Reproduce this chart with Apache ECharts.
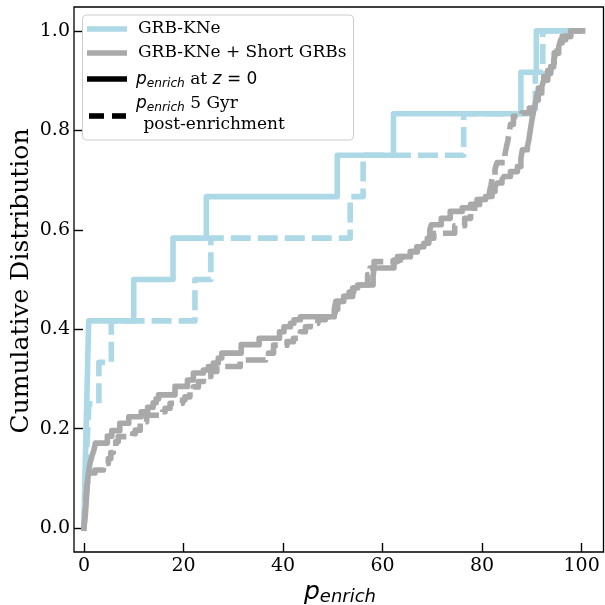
<!DOCTYPE html>
<html>
<head>
<meta charset="utf-8">
<script src="https://cdn.jsdelivr.net/npm/echarts@6/dist/echarts.min.js"></script>
<style>
html,body{margin:0;padding:0;background:#fff;}
#chart{width:605px;height:605px;}
</style>
</head>
<body>
<div id="chart"></div>
<script>
// ---- data (x = p_enrich, y = cumulative fraction) ----
var xTicks = [0, 20, 40, 60, 80, 100];
var yTicks = [0.0, 0.2, 0.4, 0.6, 0.8, 1.0];

// GRB-KNe, p_enrich at z=0
var kneZ0 = [[0,0],[0.15,0.0833],[0.35,0.1667],[0.55,0.25],[0.75,0.3333],[0.95,0.4167],[10.0,0.5],[17.9,0.5833],[24.6,0.6667],[50.9,0.75],[62.2,0.8333],[87.8,0.9167],[90.9,1.0],[97.8,1.0]];
// GRB-KNe, 5 Gyr post-enrichment
var kne5 = [[0,0],[0.3,0.0833],[0.6,0.1667],[1.0,0.25],[3.0,0.3333],[5.5,0.4167],[22.3,0.5],[25.5,0.5833],[53.5,0.6667],[56.1,0.75],[76.3,0.8333],[90.7,0.9167],[92.2,1.0],[97.8,1.0]];
// GRB-KNe + Short GRBs, p_enrich at z=0
var allZ0 = [[0,0],[0.3,0.03],[0.5,0.06],[0.7,0.09],[0.9,0.11],[1.2,0.13],[1.6,0.145],[2.0,0.157],[2.3,0.171],[4.7,0.185],[5.6,0.196],[7.2,0.211],[9.0,0.224],[11.5,0.234],[12.8,0.243],[13.9,0.252],[14.5,0.26],[15.0,0.268],[18.3,0.285],[20.8,0.298],[22.0,0.312],[24.0,0.318],[25.0,0.325],[26.0,0.332],[27.0,0.342],[27.7,0.352],[31.6,0.369],[35.2,0.382],[39.3,0.395],[40.2,0.405],[41.5,0.412],[42.2,0.419],[43.5,0.425],[50.3,0.44],[50.6,0.456],[52.2,0.466],[53.3,0.475],[54.2,0.483],[55.0,0.489],[58.1,0.506],[58.3,0.523],[62.3,0.539],[63.6,0.546],[65.6,0.556],[66.9,0.566],[68.3,0.573],[69.0,0.583],[69.5,0.6],[69.8,0.61],[71.8,0.623],[73.6,0.637],[76.0,0.644],[77.7,0.651],[79.0,0.661],[80.7,0.667],[82.0,0.677],[82.6,0.686],[83.0,0.694],[84.0,0.701],[84.4,0.707],[85.7,0.717],[87.1,0.727],[87.8,0.744],[88.1,0.761],[89.1,0.767],[89.4,0.781],[89.7,0.801],[90.0,0.82],[90.4,0.841],[90.8,0.858],[91.1,0.875],[92.0,0.888],[92.4,0.901],[93.2,0.915],[93.8,0.928],[94.4,0.942],[94.8,0.955],[95.4,0.968],[95.8,0.982],[96.8,0.989],[97.8,1.0],[100.2,1.0]];
// GRB-KNe + Short GRBs, 5 Gyr post-enrichment
var all5 = [[0,0],[0.2,0.03],[0.4,0.06],[0.6,0.085],[0.9,0.1],[1.3,0.111],[2.2,0.117],[3.9,0.13],[4.9,0.14],[5.4,0.152],[5.9,0.164],[6.4,0.174],[6.9,0.184],[9.8,0.19],[10.3,0.197],[11.3,0.214],[12.6,0.227],[15.8,0.234],[16.3,0.241],[17.3,0.251],[19.8,0.258],[20.3,0.264],[21.3,0.274],[22.0,0.284],[23.0,0.295],[24.0,0.305],[25.5,0.315],[26.7,0.325],[31.4,0.338],[36.5,0.345],[37.1,0.352],[38.1,0.368],[40.8,0.375],[42.1,0.382],[43.5,0.395],[44.5,0.405],[45.5,0.412],[47.0,0.419],[48.5,0.425],[50.5,0.44],[51.0,0.456],[52.5,0.466],[54.0,0.483],[55.5,0.489],[57.0,0.51],[57.5,0.523],[58.3,0.536],[63.0,0.546],[65.6,0.556],[67.0,0.566],[68.3,0.573],[69.3,0.583],[70.3,0.593],[74.5,0.608],[76.5,0.623],[77.7,0.637],[78.5,0.651],[79.5,0.661],[80.7,0.667],[81.5,0.677],[81.8,0.69],[82.1,0.708],[82.6,0.722],[83.0,0.735],[84.6,0.752],[84.9,0.767],[85.2,0.78],[85.4,0.794],[85.7,0.812],[86.3,0.828],[88.0,0.835],[89.5,0.845],[90.3,0.861],[91.3,0.885],[92.4,0.908],[93.2,0.92],[93.8,0.936],[94.5,0.956],[95.1,0.976],[96.1,0.989],[97.8,1.0],[100.2,1.0]];

var legendLabels = ['GRB-KNe', 'GRB-KNe + Short GRBs'];
var yTitle = 'Cumulative Distribution';

var BLUE = '#add8e6', GRAY = '#a9a9a9';
var LW = 5.6, DASH = [20, 7];
var SERIF = 'DejaVu Serif', SANS = 'DejaVu Sans';

function mkSeries(name, data, color, dashed) {
  return {
    type: 'line', name: name, data: data, step: 'end', showSymbol: false, symbol: 'none',
    lineStyle: {color: color, width: LW, type: dashed ? DASH : 'solid', cap: dashed ? 'butt' : 'square', join: 'round'},
    silent: true, clip: false
  };
}

var chart = echarts.init(document.getElementById('chart'), null, {renderer: 'canvas'});

var mathRich = function (big) {
  var f = big ? 25 : 17, fs = big ? 18 : 12.2, lh = big ? 30 : 22, pad = big ? 10 : 7;
  return {
    p: {fontFamily: SANS, fontStyle: 'italic', fontSize: f, lineHeight: lh, verticalAlign: 'middle', color: '#000'},
    s: {fontFamily: SANS, fontStyle: 'italic', fontSize: fs, lineHeight: fs + 2, padding: [pad, 0, 0, 0], verticalAlign: 'middle', color: '#000'},
    t: {fontFamily: SERIF, fontSize: f, lineHeight: lh, verticalAlign: 'middle', color: '#000'},
    m: {fontFamily: SANS, fontStyle: 'italic', fontSize: f, lineHeight: lh, verticalAlign: 'middle', color: '#000'},
    n: {fontFamily: SANS, fontSize: f, lineHeight: lh, verticalAlign: 'middle', color: '#000'}
  };
};

function handle(x, y, w, color) {
  return {type: 'rect', zlevel: 1, z: 101, shape: {x: x, y: y - LW / 2, width: w, height: LW}, style: {fill: color, stroke: null}};
}

var option = {
  animation: false,
  backgroundColor: '#fff',
  grid: {left: 74, top: 7, width: 529.5, height: 545, show: true, borderColor: '#000', borderWidth: 1.3, backgroundColor: 'transparent', containLabel: false},
  xAxis: {
    type: 'value', min: -2, max: 104.4,
    axisLine: {show: false, onZero: false},
    splitLine: {show: false},
    axisTick: {show: true, inside: true, length: 9, lineStyle: {color: '#000', width: 1.4}, customValues: xTicks},
    axisLabel: {show: true, customValues: xTicks, fontFamily: SERIF, fontSize: 19, color: '#000', margin: 5,
      formatter: function (v) { return String(Math.round(v)); }}
  },
  yAxis: {
    type: 'value', min: -0.048, max: 1.048,
    axisLine: {show: false, onZero: false},
    splitLine: {show: false},
    axisTick: {show: true, inside: true, length: 9, lineStyle: {color: '#000', width: 1.4}, customValues: yTicks},
    axisLabel: {show: true, customValues: yTicks, fontFamily: SERIF, fontSize: 19, color: '#000', margin: 4,
      formatter: function (v) { return v.toFixed(1); }}
  },
  series: [
    mkSeries('kneZ0', kneZ0, BLUE, false),
    mkSeries('kne5', kne5, BLUE, true),
    mkSeries('allZ0', allZ0, GRAY, false),
    mkSeries('all5', all5, GRAY, true)
  ],
  graphic: [
    // y-axis title
    {type: 'text', x: 21, y: 281, rotation: Math.PI / 2, z: 100,
      style: {text: yTitle, fontFamily: SERIF, fontSize: 25, fill: '#000', align: 'center', verticalAlign: 'middle'}},
    // x-axis title
    {type: 'text', x: 340, y: 592, z: 100,
      style: {text: '{p|p}{s|enrich}', rich: mathRich(true), align: 'center', verticalAlign: 'middle'}},
    // legend box
    {type: 'rect', zlevel: 1, z: 100, shape: {x: 82.5, y: 15, width: 271, height: 125, r: 4},
      style: {fill: 'rgba(255,255,255,0.8)', stroke: '#cccccc', lineWidth: 1}},
    handle(87, 29, 40, BLUE),
    handle(87, 53, 40, GRAY),
    handle(87, 79, 40, '#000'),
    handle(89, 116, 15, '#000'),
    handle(112, 116, 14, '#000'),
    {type: 'text', zlevel: 1, z: 101, x: 138, y: 29, style: {text: legendLabels[0], fontFamily: SERIF, fontSize: 17, fill: '#000', verticalAlign: 'middle'}},
    {type: 'text', zlevel: 1, z: 101, x: 138, y: 53, style: {text: legendLabels[1], fontFamily: SERIF, fontSize: 17, fill: '#000', verticalAlign: 'middle'}},
    {type: 'text', zlevel: 1, z: 101, x: 136, y: 80, style: {text: '{p|p}{s|enrich}{t| at }{m|z}{n| = 0}', rich: mathRich(false), verticalAlign: 'middle'}},
    {type: 'text', zlevel: 1, z: 101, x: 136, y: 104, style: {text: '{p|p}{s|enrich}{t| 5 Gyr}', rich: mathRich(false), verticalAlign: 'middle'}},
    {type: 'text', zlevel: 1, z: 101, x: 138, y: 125, style: {text: ' post-enrichment', fontFamily: SERIF, fontSize: 17, fill: '#000', verticalAlign: 'middle'}}
  ]
};
chart.setOption(option);
</script>
</body>
</html>
